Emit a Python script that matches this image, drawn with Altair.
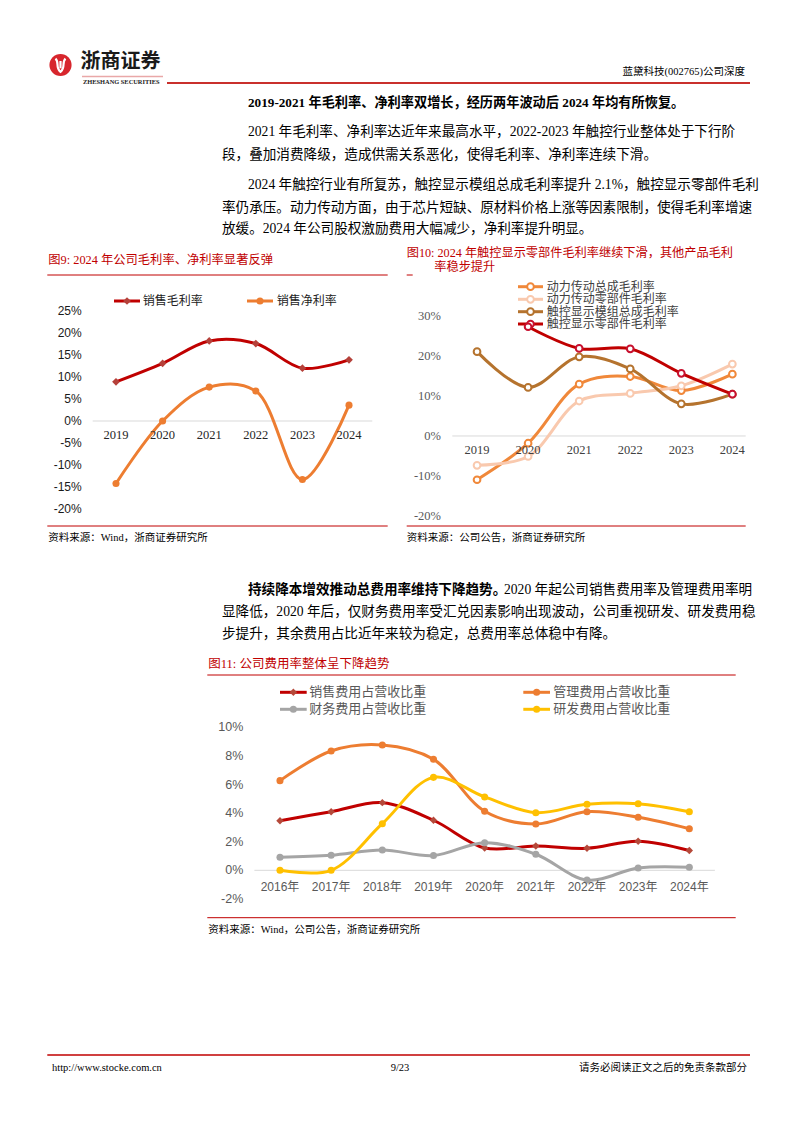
import altair as alt
import pandas as pd

# ---------------- data ----------------
years9 = [2019, 2020, 2021, 2022, 2023, 2024]
gross9 = [8.9, 13.1, 18.2, 17.6, 12.0, 13.9]      # 销售毛利率
net9 = [-14.2, 0.0, 7.7, 6.8, -13.3, 3.6]         # 销售净利率
ticks9 = [25, 20, 15, 10, 5, 0, -5, -10, -15, -20]

years10 = [2019, 2020, 2021, 2022, 2023, 2024]
power_asm = [-10.9, -1.8, 12.9, 14.8, 11.3, 15.4]     # 动力传动总成毛利率
power_parts = [-7.3, -5.1, 8.7, 10.6, 12.5, 17.9]     # 动力传动零部件毛利率
touch_mod = [21.0, 12.1, 19.7, 16.7, 8.0, 10.4]       # 触控显示模组总成毛利率
touch_parts = [None, 27.2, 21.8, 21.7, 15.6, 10.4]    # 触控显示零部件毛利率
ticks10 = [30, 20, 10, 0, -10, -20]

years11 = [2016, 2017, 2018, 2019, 2020, 2021, 2022, 2023, 2024]
sales11 = [3.47, 4.10, 4.73, 3.50, 1.56, 1.70, 1.54, 2.03, 1.38]
admin11 = [6.27, 8.34, 8.76, 7.76, 4.13, 3.24, 4.10, 3.71, 2.91]
fin11 = [0.91, 1.05, 1.42, 1.03, 1.93, 1.12, -0.68, 0.16, 0.21]
rnd11 = [0.0, 0.0, 3.26, 6.50, 5.13, 4.03, 4.62, 4.66, 4.10]
ticks11 = [10, 8, 6, 4, 2, 0, -2]

# ---------------- helpers ----------------
OFF = 8
BODY = "Liberation Serif, Noto Sans CJK SC"
CJK = "Noto Sans CJK SC"
SANS = "Liberation Sans, Noto Sans CJK SC"
RED = "#C00000"
ONE = pd.DataFrame({"k": [0]})


def P(v):
    return v - OFF


def txt(s, x, y, size=13.6, color="#000000", font=BODY, weight="normal", align="left"):
    return alt.Chart(ONE).mark_text(
        text=s, align=align, baseline="middle", fontSize=size, color=color,
        font=font, fontWeight=weight
    ).encode(x=alt.value(P(x)), y=alt.value(P(y)))


def hline(x1, x2, y, color=RED, width=1.0):
    return alt.Chart(ONE).mark_rule(color=color, strokeWidth=width).encode(
        x=alt.value(P(x1)), x2=alt.value(P(x2)), y=alt.value(P(y)))


def marker(x, y, shape, color, size, open_=False):
    if open_:
        m = alt.Chart(ONE).mark_point(shape=shape, filled=False, fill="white", stroke=color,
                                      strokeWidth=2, size=size, opacity=1, fillOpacity=1)
    else:
        m = alt.Chart(ONE).mark_point(shape=shape, filled=True, color=color, size=size, opacity=1)
    return m.encode(x=alt.value(P(x)), y=alt.value(P(y)))


def legend_item(x1, x2, y, line_color, shape, mcolor, msize, label, tx, size, tcolor, open_=False):
    return [hline(x1, x2, y, line_color, 3),
            marker((x1 + x2) / 2, y, shape, mcolor, msize, open_),
            txt(label, tx, y, size=size, color=tcolor, font=BODY)]


def series(years, vals, xs, ys, color, shape, mcolor, msize, open_=False, width=3):
    df = pd.DataFrame({"year": years, "v": vals}).dropna()
    base = alt.Chart(df).encode(
        x=alt.X("year:Q", scale=xs, axis=None),
        y=alt.Y("v:Q", scale=ys, axis=None))
    line = base.mark_line(color=color, strokeWidth=width, interpolate="catmull-rom")
    if open_:
        pts = base.mark_point(shape=shape, filled=False, fill="white", stroke=color if mcolor is None else mcolor,
                              strokeWidth=2, size=msize, opacity=1, fillOpacity=1)
    else:
        pts = base.mark_point(shape=shape, filled=True, color=mcolor, size=msize, opacity=1)
    return [line, pts]


def ylabels(ticks, ys, xr, size, color, font):
    df = pd.DataFrame({"v": ticks, "lab": [f"{t}%" for t in ticks]})
    return alt.Chart(df).mark_text(align="right", baseline="middle", fontSize=size,
                                   color=color, font=font).encode(
        y=alt.Y("v:Q", scale=ys, axis=None), x=alt.value(P(xr)), text="lab:N")


def xlabels(years, xs, y, size, color, font, suffix=""):
    df = pd.DataFrame({"year": years, "lab": [f"{yy}{suffix}" for yy in years]})
    return alt.Chart(df).mark_text(align="center", baseline="middle", fontSize=size,
                                   color=color, font=font).encode(
        x=alt.X("year:Q", scale=xs, axis=None), y=alt.value(P(y)), text="lab:N")


def zero_grid(ys, x1, x2):
    df = pd.DataFrame({"z": [0]})
    return alt.Chart(df).mark_rule(color="#D9D9D9", strokeWidth=1).encode(
        y=alt.Y("z:Q", scale=ys, axis=None), x=alt.value(P(x1)), x2=alt.value(P(x2)))


# ---------------- page decorations ----------------
decor = []
# logo
decor.append(alt.Chart(ONE).mark_circle(size=490, color="#D7262D", opacity=1).encode(
    x=alt.value(P(60.5)), y=alt.value(P(65))))
decor.append(alt.Chart(ONE).mark_point(
    shape="M-0.55,-0.7 C-0.1,-0.3 -0.6,0.3 0,0.75 C0.6,0.3 0.1,-0.3 0.55,-0.7 M0,-0.45 L0,0.35",
    filled=False, stroke="white", strokeWidth=2.2, size=330, opacity=1).encode(
    x=alt.value(P(60.5)), y=alt.value(P(65))))
decor.append(txt("浙商证券", 80.5, 62, size=20, font=CJK, weight="bold", color="#1a1a1a"))
decor.append(hline(82, 163, 76.5, "#E9A8A8", 1.5))
decor.append(txt("ZHESHANG SECURITIES", 83, 81.5, size=6.4, font="Liberation Serif", weight="bold", color="#222222"))
decor.append(hline(167, 750, 83, "#C9302C", 2))
decor.append(txt("蓝黛科技(002765)公司深度", 745, 72, size=10.5, align="right"))

# body paragraphs
decor.append(txt("2019-2021 年毛利率、净利率双增长，经历两年波动后 2024 年均有所恢复。", 248, 103, size=13.2, weight="bold"))
decor.append(txt("2021 年毛利率、净利率达近年来最高水平，2022-2023 年触控行业整体处于下行阶", 248, 132))
decor.append(txt("段，叠加消费降级，造成供需关系恶化，使得毛利率、净利率连续下滑。", 222, 155))
decor.append(txt("2024 年触控行业有所复苏，触控显示模组总成毛利率提升 2.1%，触控显示零部件毛利", 248, 185))
decor.append(txt("率仍承压。动力传动方面，由于芯片短缺、原材料价格上涨等因素限制，使得毛利率增速", 222, 208))
decor.append(txt("放缓。2024 年公司股权激励费用大幅减少，净利率提升明显。", 222, 229))

decor.append(txt("持续降本增效推动总费用率维持下降趋势。", 248, 590, weight="bold"))
decor.append(txt("2020 年起公司销售费用率及管理费用率明", 504, 590))
decor.append(txt("显降低，2020 年后，仅财务费用率受汇兑因素影响出现波动，公司重视研发、研发费用稳", 222, 612))
decor.append(txt("步提升，其余费用占比近年来较为稳定，总费用率总体稳中有降。", 222, 634))

# figure 9 frame
decor.append(txt("图9:  2024 年公司毛利率、净利率显著反弹", 48.3, 260, size=12.3, color=RED))
decor.append(hline(47.3, 387.7, 275))
decor.append(hline(47.3, 387.7, 526))
decor.append(txt("资料来源：Wind，浙商证券研究所", 48.3, 537.5, size=10.5))
decor += legend_item(114, 140, 301, RED, "diamond", "#B5413A", 60, "销售毛利率", 142.7, 12, "#222222")
decor += legend_item(247, 273, 301, "#ED7D31", "circle", "#ED7D31", 50, "销售净利率", 276.7, 12, "#222222")

# figure 10 frame
decor.append(txt("图10:  2024 年触控显示零部件毛利率继续下滑，其他产品毛利", 406.7, 252.7, size=12.2, color=RED))
decor.append(txt("率稳步提升", 434.3, 266.5, size=12.2, color=RED))
decor.append(hline(406.7, 412.7, 275))
decor.append(hline(406.7, 745.7, 526))
decor.append(txt("资料来源：公司公告，浙商证券研究所", 406.7, 537.5, size=10.5))
leg10 = [("动力传动总成毛利率", "#F0883A", "#F0883A", 286.7),
         ("动力传动零部件毛利率", "#F9C9AE", "#F9C9AE", 299.3),
         ("触控显示模组总成毛利率", "#B5732E", "#B5732E", 311.7),
         ("触控显示零部件毛利率", RED, "#C8102E", 324.0)]
for lab, lc, mc, yy in leg10:
    decor += legend_item(518, 543, yy, lc, "circle", mc, 45, lab, 546.7, 12, "#404040", open_=True)

# figure 11 frame
decor.append(txt("图11:  公司费用率整体呈下降趋势", 208.3, 664, size=12.5, color=RED))
decor.append(hline(207.3, 735.7, 675))
decor.append(hline(207.3, 735.7, 917.7))
decor.append(txt("资料来源：Wind，公司公告，浙商证券研究所", 208.3, 929.5, size=10.5))
decor += legend_item(280, 306.7, 692.3, RED, "diamond", "#B5493A", 55, "销售费用占营收比重", 309.3, 13, "#595959")
decor += legend_item(523.3, 550, 692.3, "#ED7D31", "circle", "#ED7D31", 50, "管理费用占营收比重", 553.3, 13, "#595959")
decor += legend_item(280, 306.7, 709.3, "#A5A5A5", "circle", "#A5A5A5", 50, "财务费用占营收比重", 309.3, 13, "#595959")
decor += legend_item(523.3, 550, 709.3, "#FFC000", "circle", "#FFC000", 50, "研发费用占营收比重", 553.3, 13, "#595959")

# footer
decor.append(hline(47.3, 750, 1055, RED, 1.5))
decor.append(txt("http://www.stocke.com.cn", 52, 1067.5, size=10.5, font="Liberation Serif"))
decor.append(txt("9/23", 400, 1067.5, size=10.5, font="Liberation Serif", align="center"))
decor.append(txt("请务必阅读正文之后的免责条款部分", 747, 1067.5, size=10.5, align="right"))

# ---------------- chart 9 ----------------
xs9 = alt.Scale(domain=[2018.5, 2024.5], range=[P(92.7), P(372.3)], nice=False, zero=False)
ys9 = alt.Scale(domain=[-20, 25], range=[P(509), P(311)], nice=False, zero=False)
chart9 = alt.layer(
    zero_grid(ys9, 92.7, 372.3),
    *series(years9, gross9, xs9, ys9, RED, "diamond", "#B5413A", 60),
    *series(years9, net9, xs9, ys9, "#ED7D31", "circle", "#ED7D31", 50),
    ylabels(ticks9, ys9, 81.7, 12, "#1a1a1a", SANS),
    xlabels(years9, xs9, 434.5, 12.5, "#262626", "Liberation Serif"),
)

# ---------------- chart 10 ----------------
xs10 = alt.Scale(domain=[2018.5, 2024.5], range=[P(451.5), P(757.9)], nice=False, zero=False)
ys10 = alt.Scale(domain=[-20, 30], range=[P(516.3), P(315.5)], nice=False, zero=False)
chart10 = alt.layer(
    zero_grid(ys10, 452.3, 745.7),
    *series(years10, power_asm, xs10, ys10, "#F0883A", "circle", "#F0883A", 45, open_=True),
    *series(years10, power_parts, xs10, ys10, "#F9C9AE", "circle", "#F9C9AE", 45, open_=True),
    *series(years10, touch_mod, xs10, ys10, "#B5732E", "circle", "#B5732E", 45, open_=True),
    *series(years10, touch_parts, xs10, ys10, RED, "circle", "#C8102E", 45, open_=True),
    ylabels(ticks10, ys10, 441, 12.5, "#595959", "Liberation Serif"),
    xlabels(years10, xs10, 450, 12.5, "#404040", "Liberation Serif"),
)

# ---------------- chart 11 ----------------
xs11 = alt.Scale(domain=[2015.5, 2024.5], range=[P(254.4), P(714.9)], nice=False, zero=False)
ys11 = alt.Scale(domain=[-2, 10], range=[P(898.9), P(727.3)], nice=False, zero=False)
chart11 = alt.layer(
    zero_grid(ys11, 254.4, 714.9),
    *series(years11, sales11, xs11, ys11, RED, "diamond", "#B5493A", 55),
    *series(years11, admin11, xs11, ys11, "#ED7D31", "circle", "#ED7D31", 50),
    *series(years11, fin11, xs11, ys11, "#A5A5A5", "circle", "#A5A5A5", 50),
    *series(years11, rnd11, xs11, ys11, "#FFC000", "circle", "#FFC000", 50),
    ylabels(ticks11, ys11, 243.3, 12.5, "#595959", "Liberation Sans Narrow, Liberation Sans"),
    xlabels(years11, xs11, 887.3, 12, "#595959", SANS, suffix="年"),
)

chart = alt.layer(*decor, chart9, chart10, chart11).resolve_scale(
    x="independent", y="independent"
).properties(
    width=778, height=1107, padding=0, autosize="none", background="white"
).configure_view(stroke=None)

chart.save("out.html", embed_options={"renderer": "svg", "actions": False})
